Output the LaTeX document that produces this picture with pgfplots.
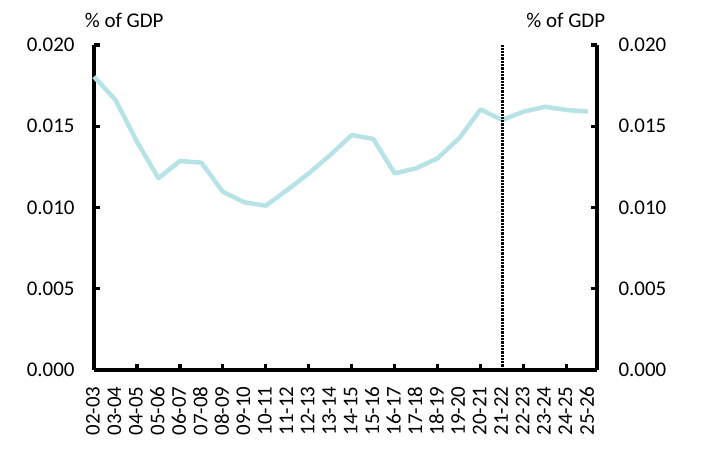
\documentclass[border=0pt]{standalone}
\usepackage{fontspec}
\setmainfont{Carlito}
\usepackage{pgfplots}
\usepackage{pgfplotstable}
\pgfplotsset{compat=1.18}
\definecolor{linecol}{RGB}{183,226,230}

\pgfplotstableread{
idx val
0 0.01805
1 0.01662
2 0.01405
3 0.01180
4 0.01286
5 0.01276
6 0.01097
7 0.01032
8 0.01011
9 0.01108
10 0.01210
11 0.01323
12 0.01446
13 0.01422
14 0.01210
15 0.01241
16 0.01303
17 0.01426
18 0.01604
19 0.01538
20 0.01590
21 0.01620
22 0.01600
23 0.01590
}\data

\pgfplotsset{
  base/.style={
    scale only axis, width=503bp, height=325bp,
    xmin=0, xmax=23.42, ymin=0, ymax=0.020,
    ytick={0,0.005,0.010,0.015,0.020},
    scaled y ticks=false,
    yticklabel style={/pgf/number format/fixed, /pgf/number format/fixed zerofill,
      /pgf/number format/precision=3, /pgf/number format/assume math mode=true},
    tick align=inside,
    major tick length=6bp, minor tick length=6bp,
    every tick/.append style={black, line width=3.2bp},
    every outer x axis line/.append style={-, black, line width=3.2bp},
    every outer y axis line/.append style={-, black, line width=3.2bp},
    clip=false,
  }
}

\begin{document}
\begin{tikzpicture}[font=\fontsize{21}{25}\selectfont]
\begin{axis}[name=a, base,
    axis x line*=bottom, axis y line*=left,
    xtick={0,...,23},
    xticklabels={02-03,03-04,04-05,05-06,06-07,07-08,08-09,09-10,10-11,11-12,12-13,13-14,14-15,15-16,16-17,17-18,18-19,19-20,20-21,21-22,22-23,23-24,24-25,25-26},
    xticklabel style={rotate=90, anchor=east, xshift=-13bp, yshift=1bp},
    every major x tick/.append style={draw=none},
    minor xtick={2,4,...,22},
    yticklabel style={xshift=-16bp},
  ]
  \addplot[linecol, line width=4.5bp, line join=round] table[x=idx, y=val]{\data};
  \addplot[black, line width=3bp, dash pattern=on 2.3bp off 1bp] coordinates {(19,0) (19,0.020)};
  \node at (rel axis cs:0.06,1.077) {\% of GDP};
  \node at (rel axis cs:0.938,1.077) {\% of GDP};
\end{axis}
\begin{axis}[base,
    axis y line*=right, axis x line=none,
    yticklabel style={xshift=18bp},
  ]
\end{axis}
\pgfresetboundingbox
\path[use as bounding box] ([xshift=-94bp,yshift=-85bp]a.south west) rectangle ([xshift=105bp,yshift=45bp]a.north east);
\end{tikzpicture}
\end{document}
